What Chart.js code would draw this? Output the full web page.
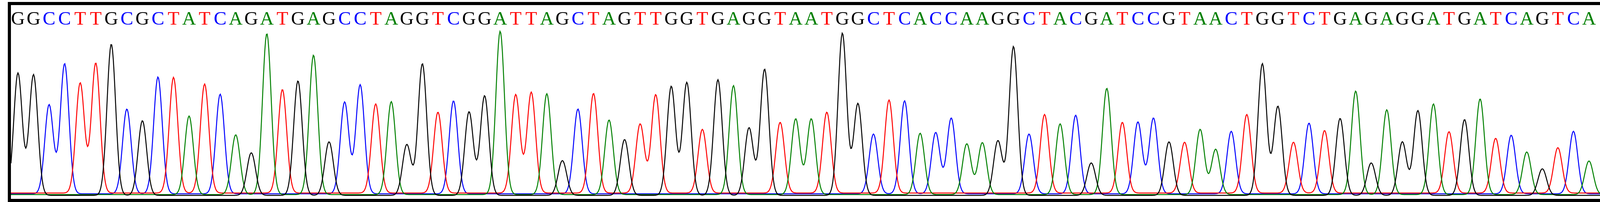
<!DOCTYPE html>
<html>
<head>
<meta charset="utf-8">
<script src="https://cdn.jsdelivr.net/npm/chart.js@4/dist/chart.umd.min.js"></script>
<style>
  html, body { margin: 0; padding: 0; background: #fff; }
  #frame {
    position: absolute; left: 20px; top: 5px;
    width: 4074px; height: 496px;
    border: 8px solid #000; background: #fff;
  }
  #wrap { position: relative; width: 4074px; height: 496px; }
</style>
</head>
<body>
<div id="frame"><div id="wrap"><canvas id="trace"></canvas></div></div>
<script>
// base calls, read left to right
const bases = 'GGCCTTGCGCTATCAGATGAGCCTAGGTCGGATTAGCTAGTTGGTGAGGTAATGGCTCACCAAGGCTACGATCCGTAACTGGTCTGAGAGGATGATCAGTCA'.split('');

// peak height of each called base (signal units)
const peakHeights = [
  313, 309, 228, 333, 282, 333, 387, 217, 191, 299,
  296, 201, 279, 255, 153, 109, 412, 265, 293, 357,
  137, 235, 279, 228, 238, 130, 337, 207, 238, 214,
  255, 418, 252, 258, 258, 89, 217, 255, 191, 143,
  177, 252, 279, 289, 163, 296, 279, 173, 323, 181,
  194, 194, 207, 415, 235, 153, 238, 238, 157, 157,
  194, 130, 133, 140, 381, 153, 201, 181, 201, 83,
  272, 181, 184, 194, 137, 130, 167, 116, 160, 201,
  337, 228, 130, 181, 160, 197, 265, 83, 217, 137,
  217, 232, 157, 194, 245, 140, 150, 109, 68, 116,
  160, 86
];

// scan position of the first call and spacing between calls
const firstScan = 18;
const scanStep = 39.82;
const peakWidth = 11;
const scanMax = 4074;

const channels = ['G', 'A', 'T', 'C'];
const channelColors = { G: '#000000', A: '#008000', T: '#ff0000', C: '#0000ff' };
const baselines = { G: 0, A: 2, T: 6, C: 4 };

function channelTrace(ch) {
  const pts = [];
  for (let x = 0; x <= scanMax; x += 2) {
    let y = baselines[ch];
    bases.forEach((b, i) => {
      if (b !== ch) return;
      const d = x - (firstScan + i * scanStep);
      if (Math.abs(d) < 60) y += peakHeights[i] * Math.exp(-d * d / (2 * peakWidth * peakWidth));
    });
    pts.push({ x, y });
  }
  return pts;
}

const callLetters = {
  id: 'callLetters',
  afterDraw(chart) {
    const ctx = chart.ctx;
    const xs = chart.scales.x;
    ctx.save();
    ctx.font = '49px "Liberation Serif"';
    ctx.textAlign = 'center';
    ctx.textBaseline = 'alphabetic';
    bases.forEach((b, i) => {
      ctx.fillStyle = channelColors[b];
      ctx.fillText(b, xs.getPixelForValue(firstScan + i * scanStep), 50);
    });
    ctx.restore();
  }
};

new Chart(document.getElementById('trace'), {
  type: 'line',
  data: {
    datasets: channels.map(ch => ({
      label: ch,
      data: channelTrace(ch),
      borderColor: channelColors[ch],
      borderWidth: 2.5,
      pointRadius: 0,
      tension: 0,
      fill: false
    }))
  },
  options: {
    responsive: true,
    maintainAspectRatio: false,
    animation: false,
    devicePixelRatio: 1,
    layout: { padding: 0 },
    plugins: { legend: { display: false }, tooltip: { enabled: false } },
    scales: {
      x: { type: 'linear', min: 0, max: scanMax, display: false },
      y: { min: -9, max: 487, display: false }
    }
  },
  plugins: [callLetters]
});
</script>
</body>
</html>
